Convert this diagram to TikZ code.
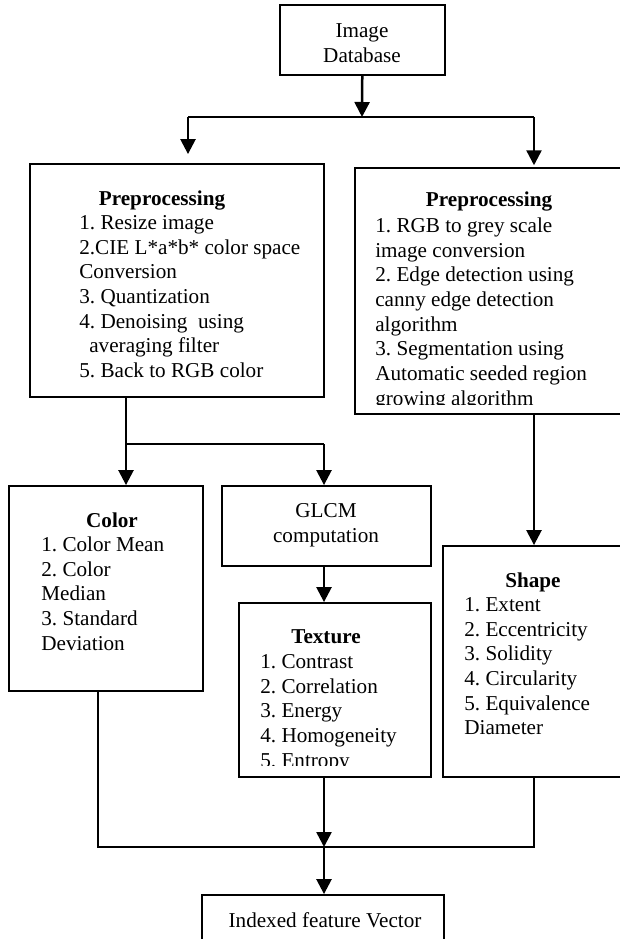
\documentclass[tikz,border=0pt]{standalone}
\usepackage{fontspec}
\setmainfont{Liberation Serif}
\usepackage{tikz}
\usetikzlibrary{arrows.meta, fit, calc}
\frenchspacing

\begin{document}
\begin{tikzpicture}[x = 0.6pt, y = -0.6pt,
    every node/.style = {font = \fontsize{12.7}{14.8}\selectfont, inner sep = 0pt},
    scatola/.style = {draw, line width = 1.1pt},
    titolo/.style = {anchor = base, font = \fontsize{12.7}{14.8}\selectfont\bfseries},
    testo/.style = {anchor = north, align = center},
    elenco/.style = {anchor = north west, align = left},
    linea/.style = {line width = 1.5pt},
    freccia/.style = {line width = 1.5pt, -{Triangle[width = 9pt, length = 9pt]}}]
    \useasboundingbox (0,0) rectangle (620,939);
    % Database
    \node[scatola, fit = {(280,5) (445,75)}] (db) {};
    \node[testo] (dbt) at (362,20) {\strut Image\\Database};
    % Preprocessing (colore)
    \node[scatola, fit = {(30,164) (324,397)}] (pre1) {};
    \node[titolo] (pre1t) at (162,205) {Preprocessing};
    \node[elenco] (pre1l) at (79,212) {\strut 1. Resize image\\2.CIE L*a*b* color space\\Conversion\\3. Quantization\\4. Denoising\ \ using\\\hspace{6pt}averaging filter\\5. Back to RGB color};
    % Preprocessing (forma)
    \node[scatola, line width = 0.9pt, fit = {(355,168) (625,414)}] (pre2) {};
    \node[titolo] (pre2t) at (489,206) {Preprocessing};
    \begin{scope}
        \clip (355,212) rectangle (625,404);
        \node[elenco] (pre2l) at (375,215) {\strut 1. RGB to grey scale\\image conversion\\2. Edge detection using\\canny edge detection\\algorithm\\3. Segmentation using\\Automatic seeded region\\growing algorithm};
    \end{scope}
    % Color
    \node[scatola, fit = {(9,486) (203,691)}] (color) {};
    \node[titolo] (colort) at (112,527) {Color};
    \node[elenco] (colorl) at (41,534) {\strut 1. Color Mean\\2. Color\\Median\\3. Standard\\Deviation};
    % GLCM
    \node[scatola, fit = {(222,486) (431,566)}] (glcm) {};
    \node[testo] (glcmt) at (326,500) {\strut GLCM\\computation};
    % Texture
    \node[scatola, fit = {(239,603) (431,777)}] (texture) {};
    \node[titolo] (texturet) at (326,643) {Texture};
    \begin{scope}
        \clip (239,648) rectangle (431,765);
        \node[elenco] (texturel) at (260,651) {\strut 1. Contrast\\2. Correlation\\3. Energy\\4. Homogeneity\\5. Entropy};
    \end{scope}
    % Shape
    \node[scatola, fit = {(443,546) (625,777)}] (shape) {};
    \node[titolo] (shapet) at (533,587) {Shape};
    \node[elenco] (shapel) at (464,594) {\strut 1. Extent\\2. Eccentricity\\3. Solidity\\4. Circularity\\5. Equivalence\\Diameter};
    % Vettore
    \node[scatola, fit = {(202,895) (444,945)}] (vettore) {};
    \node[titolo, font = \fontsize{12.7}{14.8}\selectfont] (vettoret) at (325,927) {Indexed feature Vector};
    % Biforcazioni
    \coordinate (bivio1) at (362,117);
    \coordinate (bivio1s) at (188,117);
    \coordinate (bivio1d) at (534,117);
    \coordinate (bivio2s) at (126,444);
    \coordinate (bivio2d) at (324,444);
    \coordinate (unione) at (324,847);
    \coordinate (uniones) at (98,847);
    \coordinate (unioned) at (534,847);
    % Frecce
    \draw[freccia] (db) -- (bivio1);
    \draw[linea] (bivio1s) -- (bivio1d);
    \draw[freccia, shorten >= 5.4pt] (bivio1s) -- (bivio1s |- pre1.north);
    \draw[freccia, shorten >= 1.2pt] (bivio1d) -- (bivio1d |- pre2.north);
    \draw[linea] (pre1.south -| bivio2s) -- (bivio2s) -- (bivio2d);
    \draw[freccia] (bivio2s) -- (bivio2s |- color.north);
    \draw[freccia] (bivio2d) -- (bivio2d |- glcm.north);
    \draw[freccia] (glcm.south -| bivio2d) -- (bivio2d |- texture.north);
    \draw[freccia] (pre2.south -| bivio1d) -- (bivio1d |- shape.north);
    \draw[linea] (color.south -| uniones) -- (uniones) -- (unioned) -- (shape.south -| unioned);
    \draw[freccia] (texture.south -| unione) -- (unione);
    \draw[freccia] (unione) -- (unione |- vettore.north);
\end{tikzpicture}
\end{document}
